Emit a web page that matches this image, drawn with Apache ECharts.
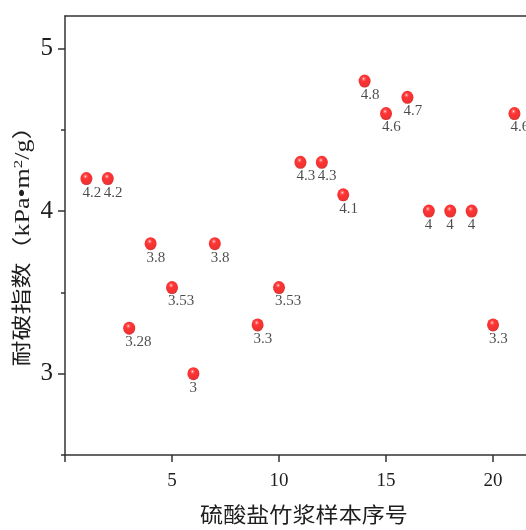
<!DOCTYPE html>
<html>
<head>
<meta charset="utf-8">
<script src="https://cdn.jsdelivr.net/npm/echarts@6/dist/echarts.min.js"></script>
<style>
  html, body { margin: 0; padding: 0; background: #fff; }
  #chart { width: 526px; height: 530px; }
</style>
</head>
<body>
<div id="chart"></div>
<script>
// Sample numbers of the sulfate bamboo pulps and their burst index (kPa·m²/g)
const sampleNo   = [1, 2, 3, 4, 5, 6, 7, 9, 10, 11, 12, 13, 14, 15, 16, 17, 18, 19, 20, 21];
const burstIndex = [4.2, 4.2, 3.28, 3.8, 3.53, 3, 3.8, 3.3, 3.53, 4.3, 4.3, 4.1, 4.8, 4.6, 4.7, 4, 4, 4, 3.3, 4.6];

const xTicks = [0, 5, 10, 15, 20];
const xTickLabels = [5, 10, 15, 20];
const yMajor = [3, 4, 5];
const yMinor = [2.5, 3.5, 4.5];

const serif = '"Liberation Serif", "Noto Sans CJK SC", serif';
const axisColor = '#333';
const textColor = '#1e1e1e';

const points = sampleNo.map((x, i) => [x, burstIndex[i]]);

// glossy red ball
const sphere = {
  type: 'radial', x: 0.42, y: 0.33, r: 0.68,
  colorStops: [
    { offset: 0, color: '#ffffff' },
    { offset: 0.12, color: '#ff5050' },
    { offset: 0.32, color: '#ff0000' },
    { offset: 0.85, color: '#e80000' },
    { offset: 1, color: '#c00000' }
  ]
};

const xRange = { min: 0, max: 21.54 };

const chart = echarts.init(document.getElementById('chart'));
chart.setOption({
  animation: false,
  grid: { left: 65, top: 16, bottom: 75, right: 0 },
  xAxis: [{
    type: 'value', ...xRange, position: 'bottom',
    axisLine: { show: true, lineStyle: { color: axisColor, width: 1.5 } },
    axisTick: { show: true, length: 7, customValues: xTicks, lineStyle: { color: axisColor, width: 1.5 } },
    axisLabel: { customValues: xTickLabels, margin: 17, fontFamily: serif, fontSize: 19, color: textColor },
    splitLine: { show: false }
  }, {
    // top frame line
    type: 'value', ...xRange, position: 'top',
    axisLine: { show: true, lineStyle: { color: axisColor, width: 1.5 } },
    axisTick: { show: false },
    axisLabel: { show: false },
    splitLine: { show: false }
  }],
  yAxis: [{
    type: 'value', min: 2.5, max: 5.2,
    axisLine: { show: true, lineStyle: { color: axisColor, width: 1.5 } },
    axisTick: { show: true, length: 7, customValues: yMajor, lineStyle: { color: axisColor, width: 1.5 } },
    axisLabel: { customValues: yMajor, margin: 12, fontFamily: serif, fontSize: 25, color: textColor },
    splitLine: { show: false }
  }, {
    type: 'value', min: 2.5, max: 5.2, position: 'left',
    axisLine: { show: false },
    axisTick: { show: true, length: 4, customValues: yMinor, lineStyle: { color: axisColor, width: 1.5 } },
    axisLabel: { show: false },
    splitLine: { show: false }
  }],
  graphic: [{
    // y axis title, read bottom-to-top
    type: 'text', x: 24, y: 240, rotation: Math.PI / 2, scaleX: 1.3, scaleY: 1,
    style: {
      text: '耐破指数（kPa•m{sup|2}/g）',
      font: '20px ' + serif, fill: textColor,
      align: 'center', verticalAlign: 'middle', lineHeight: 24,
      rich: { sup: { fontSize: 13, fontFamily: serif, fill: textColor, verticalAlign: 'top', lineHeight: 14 } }
    }
  }, {
    // x axis title
    type: 'text', x: 304, y: 516, scaleX: 1.1, scaleY: 1,
    style: {
      text: '硫酸盐竹浆样本序号',
      font: '21px ' + serif, fill: textColor,
      align: 'center', verticalAlign: 'middle'
    }
  }],
  series: [{
    type: 'scatter',
    data: points,
    symbol: 'circle',
    symbolSize: [12, 13],
    itemStyle: { color: sphere },
    label: {
      show: true, position: 'bottom', distance: 0, align: 'left', offset: [-4, 0],
      fontFamily: serif, fontSize: 15, color: textColor,
      formatter: p => String(p.value[1])
    }
  }]
});
</script>
</body>
</html>
